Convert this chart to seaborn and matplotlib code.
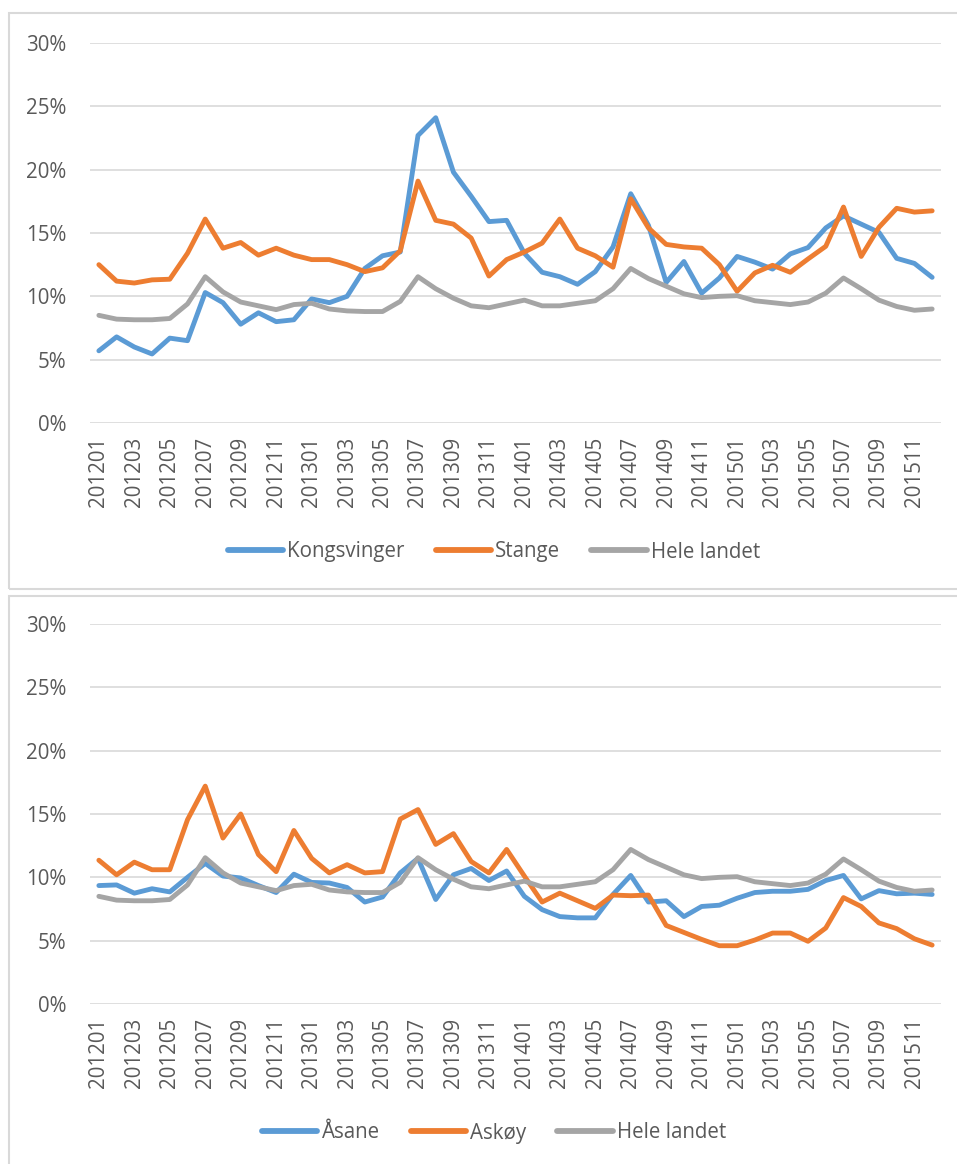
import numpy as np
import pandas as pd
import seaborn as sns
import matplotlib.pyplot as plt
from matplotlib.patches import Rectangle
from matplotlib.ticker import PercentFormatter

months = ["201201", "201202", "201203", "201204", "201205", "201206",
          "201207", "201208", "201209", "201210", "201211", "201212",
          "201301", "201302", "201303", "201304", "201305", "201306",
          "201307", "201308", "201309", "201310", "201311", "201312",
          "201401", "201402", "201403", "201404", "201405", "201406",
          "201407", "201408", "201409", "201410", "201411", "201412",
          "201501", "201502", "201503", "201504", "201505", "201506",
          "201507", "201508", "201509", "201510", "201511", "201512"]

kongsvinger = [5.7, 6.8, 6.0, 5.45, 6.7, 6.5, 10.3, 9.5, 7.8, 8.7, 8.0, 8.15,
               9.8, 9.5, 10.0, 12.2, 13.2, 13.5, 22.7, 24.1, 19.8, 17.9, 15.9, 16.0,
               13.4, 11.9, 11.55, 10.95, 11.95, 13.9, 18.1, 15.6, 11.1, 12.75, 10.25, 11.45,
               13.15, 12.7, 12.15, 13.35, 13.85, 15.4, 16.35, 15.7, 15.05, 13.0, 12.6, 11.5]

stange = [12.5, 11.2, 11.05, 11.3, 11.35, 13.4, 16.1, 13.8, 14.25, 13.25, 13.8, 13.25,
          12.9, 12.9, 12.5, 11.95, 12.25, 13.6, 19.1, 16.0, 15.7, 14.6, 11.6, 12.9,
          13.5, 14.2, 16.1, 13.8, 13.2, 12.3, 17.7, 15.4, 14.1, 13.9, 13.8, 12.5,
          10.4, 11.85, 12.45, 11.9, 12.95, 13.95, 17.05, 13.15, 15.45, 16.95, 16.65, 16.75]

hele_landet = [8.5, 8.2, 8.15, 8.15, 8.25, 9.4, 11.55, 10.35, 9.55, 9.25, 8.95, 9.35,
               9.45, 9.0, 8.85, 8.8, 8.8, 9.6, 11.55, 10.6, 9.85, 9.25, 9.1, 9.4,
               9.7, 9.25, 9.25, 9.45, 9.65, 10.6, 12.2, 11.4, 10.8, 10.2, 9.9, 10.0,
               10.05, 9.65, 9.5, 9.35, 9.55, 10.25, 11.45, 10.6, 9.7, 9.2, 8.9, 9.0]

aasane = [9.35, 9.4, 8.75, 9.1, 8.85, 10.0, 11.1, 10.1, 9.95, 9.35, 8.8, 10.25,
          9.6, 9.55, 9.2, 8.05, 8.45, 10.35, 11.5, 8.25, 10.2, 10.7, 9.75, 10.5,
          8.5, 7.45, 6.9, 6.8, 6.8, 8.65, 10.15, 8.05, 8.15, 6.9, 7.7, 7.8,
          8.35, 8.8, 8.9, 8.9, 9.05, 9.75, 10.15, 8.3, 8.95, 8.7, 8.75, 8.65]

askoy = [11.35, 10.2, 11.2, 10.6, 10.6, 14.55, 17.2, 13.1, 15.0, 11.8, 10.45, 13.7,
         11.5, 10.35, 11.0, 10.35, 10.45, 14.6, 15.35, 12.6, 13.45, 11.25, 10.35, 12.2,
         10.1, 8.05, 8.75, 8.15, 7.55, 8.6, 8.55, 8.6, 6.2, 5.65, 5.1, 4.6,
         4.6, 5.05, 5.6, 5.6, 4.95, 6.0, 8.4, 7.7, 6.4, 5.95, 5.15, 4.65]

colors = ["#5B9BD5", "#ED7D31", "#A5A5A5"]
text_col = "#595959"
grid_col = "#D9D9D9"

sns.set_theme(style="white")
plt.rcParams["font.family"] = ["Open Sans", "DejaVu Sans"]
FS = 14.8

fig = plt.figure(figsize=(9.57, 11.64), dpi=100)

# chart-area frames (Excel style)
for y0, y1 in [(13, 589), (596, 1170)]:
    fig.add_artist(Rectangle((9 / 957, 1 - y1 / 1164), 1.0, (y1 - y0) / 1164,
                             transform=fig.transFigure, fill=False,
                             edgecolor=grid_col, lw=1.5))

panels = [
    (423, {"Kongsvinger": kongsvinger, "Stange": stange, "Hele landet": hele_landet}, 552),
    (1004, {"Åsane": aasane, "Askøy": askoy, "Hele landet": hele_landet}, 1133),
]

for bottom_px, series, leg_y in panels:
    ax = fig.add_axes([90 / 957, 1 - bottom_px / 1164, 851 / 957, 380 / 1164])
    df = pd.DataFrame({"month": months * 3,
                       "value": sum(series.values(), []),
                       "serie": np.repeat(list(series.keys()), len(months))})
    sns.lineplot(data=df, x="month", y="value", hue="serie",
                 palette=colors, lw=3.5, ax=ax, legend=True)
    handles, labels = ax.get_legend_handles_labels()
    ax.get_legend().remove()
    for h in handles:
        h.set_linewidth(4.2)
        h.set_solid_capstyle("round")

    ax.set_xlim(-0.5, len(months) - 0.5)
    ax.set_ylim(0, 30)
    ax.set_yticks(range(0, 31, 5))
    ax.yaxis.set_major_formatter(PercentFormatter(decimals=0))
    ax.set_xticks(range(0, len(months), 2))
    ax.set_xticklabels(months[::2], rotation=90)
    ax.grid(axis="y", color=grid_col, lw=1.2)
    ax.set_axisbelow(True)
    for s in ax.spines.values():
        s.set_visible(False)
    ax.tick_params(axis="both", length=0, labelsize=FS, labelcolor=text_col)
    ax.tick_params(axis="y", pad=17)
    ax.tick_params(axis="x", pad=10)
    ax.set_xlabel("")
    ax.set_ylabel("")

    fig.legend(handles, labels, loc="center", bbox_to_anchor=(494 / 957, 1 - leg_y / 1164),
               ncol=3, frameon=False, fontsize=FS, labelcolor=text_col,
               handlelength=2.7, handletextpad=0.2, columnspacing=1.5)

fig.savefig("out.png", dpi=100)
